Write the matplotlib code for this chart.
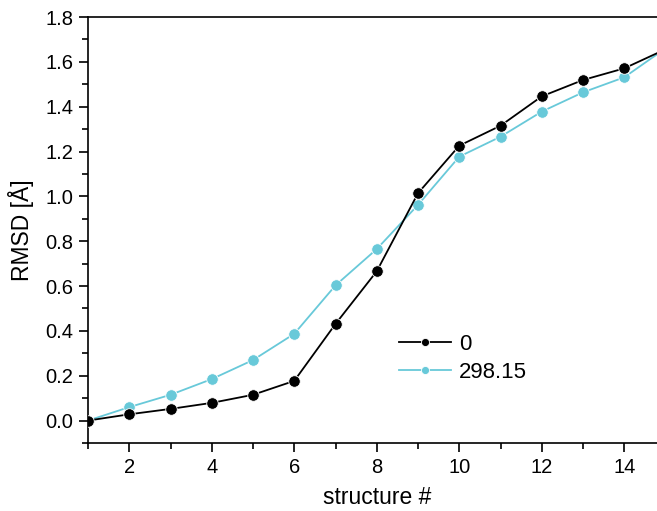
import numpy as np
import matplotlib.pyplot as plt
from matplotlib.ticker import MultipleLocator

plt.rcParams['font.family'] = ['Liberation Sans', 'DejaVu Sans']

structure = np.arange(1, 16)
rmsd_0 = [0.0, 0.028, 0.052, 0.079, 0.115, 0.177, 0.431, 0.666, 1.014,
          1.226, 1.315, 1.446, 1.519, 1.571, 1.656]
rmsd_298 = [0.0, 0.06, 0.115, 0.185, 0.27, 0.387, 0.603, 0.765, 0.962,
            1.177, 1.266, 1.378, 1.464, 1.531, 1.66]
labels = ['0', '298.15']

fig = plt.figure(figsize=(6.57, 5.11), dpi=100)
ax = fig.add_axes([88/657, 68/511, 577.5/657, 426/511])

ax.plot(structure, rmsd_0, '-o', color='black', lw=1.3, ms=8.3,
        mec='white', mew=0.6, label=labels[0], zorder=3)
ax.plot(structure, rmsd_298, '-o', color='#68c9d9', lw=1.3, ms=8.3,
        mec='white', mew=0.6, label=labels[1], zorder=2)

ax.set_xlim(1, 15)
ax.set_ylim(-0.1, 1.8)
ax.xaxis.set_major_locator(MultipleLocator(2))
ax.xaxis.set_minor_locator(MultipleLocator(1))
ax.yaxis.set_major_locator(MultipleLocator(0.2))
ax.yaxis.set_minor_locator(MultipleLocator(0.1))
ax.set_xticks([2, 4, 6, 8, 10, 12, 14])
ax.set_yticks(np.arange(0, 1.81, 0.2))
ax.yaxis.set_major_formatter(plt.FormatStrFormatter('%.1f'))

ax.tick_params(which='both', direction='out', width=1.2, labelsize=14.5,
               top=False, right=False, pad=4)
ax.tick_params(which='major', length=6.5)
ax.tick_params(which='minor', length=4)
for s in ax.spines.values():
    s.set_linewidth(1.2)

ax.set_xlabel('structure #', fontsize=16.5, labelpad=7)
ax.set_ylabel('RMSD [Å]', fontsize=16.5, labelpad=8)

ax.legend(frameon=False, fontsize=16, loc='upper left',
          bbox_to_anchor=(399/657, 1 - 334/511), bbox_transform=fig.transFigure,
          handlelength=2.35, handletextpad=0.35, labelspacing=0.32,
          markerscale=0.7, borderaxespad=0, borderpad=0)

fig.savefig('out.png', dpi=100)
